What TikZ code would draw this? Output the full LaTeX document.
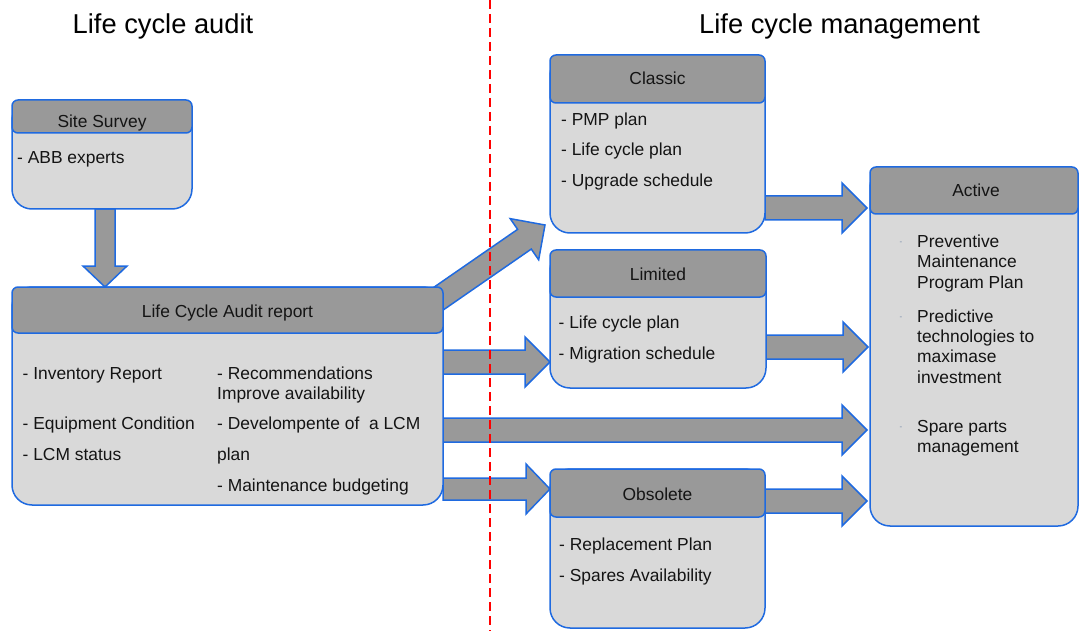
\documentclass[tikz,border=0pt]{standalone}
\usepackage{fontspec}
\setmainfont{Liberation Sans}
\usetikzlibrary{calc}
\definecolor{bblue}{RGB}{31,106,224}
\definecolor{hgray}{RGB}{153,153,153}
\definecolor{bgray}{RGB}{217,217,217}
\definecolor{txtc}{RGB}{20,20,20}
\definecolor{dashc}{RGB}{120,140,170}
\newcommand\blockarrow[5]{%
  \coordinate (bac) at ($(#2)!#5!(#1)$);
  \draw[barrow] ($(#1)!#3!90:(#2)$) -- ($(bac)!#3!90:(#2)$) -- ($(bac)!#4!90:(#2)$) -- (#2)
    -- ($(bac)!#4!-90:(#2)$) -- ($(bac)!#3!-90:(#2)$) -- ($(#1)!#3!-90:(#2)$) -- cycle;}
\begin{document}
\begin{tikzpicture}[x=1pt,y=-1pt,
  bodybox/.style={draw=bblue, fill=bgray, line width=1.5pt, rounded corners=20pt, inner sep=0pt, outer sep=0pt, anchor=north west},
  headbox/.style={draw=bblue, fill=hgray, line width=1.5pt, rounded corners=6pt, inner sep=0pt, outer sep=0pt, anchor=north west},
  barrow/.style={draw=bblue, fill=hgray, line width=1.5pt, line join=miter},
  itemtxt/.style={font=\fontsize{17.4}{20.3}\selectfont, text=txtc, inner sep=0pt, anchor=base west},
  headtxt/.style={font=\fontsize{17.4}{20.3}\selectfont, text=txtc, inner sep=0pt, anchor=base},
  titletxt/.style={font=\fontsize{27.3}{32}\selectfont, text=black, inner sep=0pt, anchor=base west},
  smalldash/.style={font=\fontsize{8}{9}\selectfont, text=dashc, inner sep=0pt}]
\useasboundingbox (0,0) rectangle (1079,631);

% titles
\node[titletxt] (t1) at (72.5,33.3) {Life cycle audit};
\node[titletxt] (t2) at (699,33.3) {Life cycle management};

% box geometry (nodes, drawn later) -- coordinates for arrows
\coordinate (a0s) at (105,209);  \coordinate (a0e) at (105,287);
\coordinate (a1s) at (425,308);  \coordinate (a1e) at (545,225);
\coordinate (a2s) at (765,208);  \coordinate (a2e) at (867,208);
\coordinate (a3s) at (766,347);  \coordinate (a3e) at (868,347);
\coordinate (a4s) at (443,362);  \coordinate (a4e) at (550,362);
\coordinate (a5s) at (443,430);  \coordinate (a5e) at (867,430);
\coordinate (a6s) at (443,489);  \coordinate (a6e) at (550,489);
\coordinate (a7s) at (765,501);  \coordinate (a7e) at (867,501);

% block arrows
\blockarrow{a0s}{a0e}{10pt}{22pt}{21pt}
\blockarrow{a1s}{a1e}{12pt}{25pt}{25pt}
\blockarrow{a2s}{a2e}{12pt}{25pt}{25pt}
\blockarrow{a3s}{a3e}{12pt}{25pt}{25pt}
\blockarrow{a4s}{a4e}{12pt}{25pt}{25pt}
\blockarrow{a5s}{a5e}{12pt}{25pt}{25pt}
\blockarrow{a6s}{a6e}{11pt}{25pt}{24pt}
\blockarrow{a7s}{a7e}{12pt}{25pt}{25pt}

% Site Survey
\node[bodybox, minimum width=180pt, minimum height=109pt] (ssb) at (12,100) {};
\node[headbox, minimum width=180pt, minimum height=33pt] (ssh) at (12,100) {};
\node[headtxt] (ssht) at (102,128) {Site Survey};
\node[itemtxt] (ss1) at (17,164) {- ABB experts};

% Life Cycle Audit report
\node[bodybox, minimum width=431pt, minimum height=218pt] (lcab) at (12,287) {};
\node[headbox, minimum width=431pt, minimum height=46pt] (lcah) at (12,287) {};
\node[headtxt] (lcaht) at (227.5,317) {Life Cycle Audit report};
\node[itemtxt] (l1) at (22.5,379) {- Inventory Report};
\node[itemtxt] (l2) at (22.5,429) {- Equipment Condition};
\node[itemtxt] (l3) at (22.5,460) {- LCM status};
\node[itemtxt] (r1) at (217,379) {- Recommendations};
\node[itemtxt] (r2) at (217,399.5) {Improve availability};
\node[itemtxt] (r3) at (217,429) {- Develompente of\ \ a LCM};
\node[itemtxt] (r4) at (217,460) {plan};
\node[itemtxt] (r5) at (217,491.5) {- Maintenance budgeting};

% Classic
\node[bodybox, minimum width=215pt, minimum height=178pt] (clb) at (550,55) {};
\node[headbox, minimum width=215pt, minimum height=48pt] (clh) at (550,55) {};
\node[headtxt] (clht) at (657.5,85) {Classic};
\node[itemtxt] (c1) at (561,126) {- PMP plan};
\node[itemtxt] (c2) at (561,156) {- Life cycle plan};
\node[itemtxt] (c3) at (561,187) {- Upgrade schedule};

% Limited
\node[bodybox, minimum width=216pt, minimum height=138pt] (lib) at (550,250) {};
\node[headbox, minimum width=216pt, minimum height=47pt] (lih) at (550,250) {};
\node[headtxt] (liht) at (658,280) {Limited};
\node[itemtxt] (li1) at (558.5,328) {- Life cycle plan};
\node[itemtxt] (li2) at (558.5,359) {- Migration schedule};

% Obsolete
\node[bodybox, minimum width=215pt, minimum height=159pt] (obb) at (550,469) {};
\node[headbox, minimum width=215pt, minimum height=48pt] (obh) at (550,469) {};
\node[headtxt] (obht) at (657.5,500) {Obsolete};
\node[itemtxt] (o1) at (559,550) {- Replacement Plan};
\node[itemtxt] (o2) at (559,581) {- Spares Availability};

% Active
\node[bodybox, minimum width=208pt, minimum height=359pt] (acb) at (870,167) {};
\node[headbox, minimum width=208pt, minimum height=47pt] (ach) at (870,167) {};
\node[headtxt] (acht) at (976,197) {Active};
\node[smalldash] (d1) at (901,243.5) {-};
\node[smalldash] (d2) at (901,318.5) {-};
\node[smalldash] (d3) at (901,428.5) {-};
\node[itemtxt] (ac1) at (917,247.3) {Preventive};
\node[itemtxt] (ac2) at (917,267.5) {Maintenance};
\node[itemtxt] (ac3) at (917,288) {Program Plan};
\node[itemtxt] (ac4) at (917,322.7) {Predictive};
\node[itemtxt] (ac5) at (917,342.5) {technologies to};
\node[itemtxt] (ac6) at (917,362.7) {maximase};
\node[itemtxt] (ac7) at (917,383) {investment};
\node[itemtxt] (ac8) at (917,432.7) {Spare parts};
\node[itemtxt] (ac9) at (917,452.5) {management};

% divider
\coordinate (divtop) at (490,0);
\coordinate (divbot) at (490,631);
\draw[red, line width=1.8pt, dash pattern=on 9pt off 5pt] (divtop) -- (divbot);
\end{tikzpicture}
\end{document}
